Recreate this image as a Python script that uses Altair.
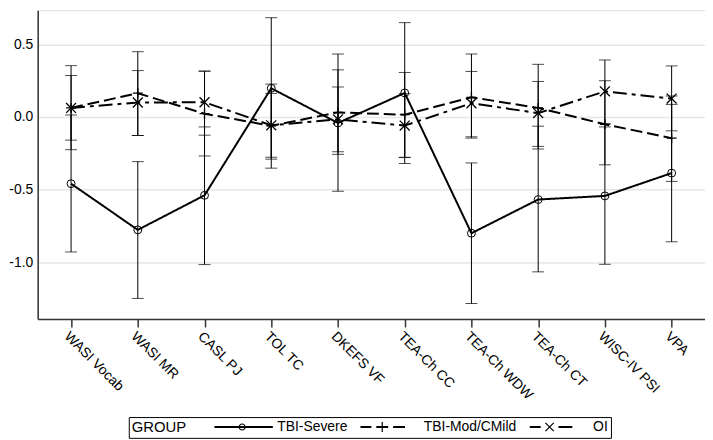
import altair as alt
import pandas as pd

FONT = "Liberation Sans"
AX = "#333333"

tests = ["WASI Vocab", "WASI MR", "CASL PJ", "TOL TC", "DKEFS VF",
         "TEA-Ch CC", "TEA-Ch WDW", "TEA-Ch CT", "WISC-IV PSI", "VPA"]
groups = ["TBI-Severe", "TBI-Mod/CMild", "OI"]

severe_mean = [-0.459, -0.777, -0.539, 0.198, -0.041, 0.166, -0.800, -0.568, -0.543, -0.386]
severe_lo = [-0.929, -1.249, -1.016, -0.290, -0.511, -0.320, -1.284, -1.066, -1.014, -0.859]
severe_hi = [0.014, -0.307, -0.068, 0.684, 0.434, 0.650, -0.316, -0.063, -0.068, 0.087]

mod_mean = [0.063, 0.164, 0.023, -0.060, 0.032, 0.016, 0.136, 0.063, -0.050, -0.145]
mod_lo = [-0.225, -0.127, -0.268, -0.352, -0.257, -0.277, -0.145, -0.220, -0.329, -0.443]
mod_hi = [0.354, 0.450, 0.316, 0.227, 0.325, 0.307, 0.434, 0.363, 0.250, 0.145]

oi_mean = [0.063, 0.100, 0.102, -0.057, -0.016, -0.059, 0.095, 0.027, 0.177, 0.127]
oi_lo = [-0.159, -0.127, -0.125, -0.277, -0.239, -0.279, -0.136, -0.202, -0.046, -0.095]
oi_hi = [0.286, 0.320, 0.316, 0.163, 0.207, 0.161, 0.314, 0.245, 0.393, 0.352]

rows = []
for g, m, lo, hi in [(groups[0], severe_mean, severe_lo, severe_hi),
                     (groups[1], mod_mean, mod_lo, mod_hi),
                     (groups[2], oi_mean, oi_lo, oi_hi)]:
    for t, a, b, c in zip(tests, m, lo, hi):
        rows.append({"test": t, "group": g, "mean": a, "lo": b, "hi": c})
df = pd.DataFrame(rows)

# ---- legend symbol paths (filled shapes drawn in px, scaled to the unit box) ----
ENTRY = 14.0          # legend entry height / nominal symbol size (px)
R = ENTRY / 2.0       # px per path unit
SLOT = 60.0           # visual width of each legend key
SYM_OFF = SLOT / 2 - ENTRY / 2
LAB_OFF = SLOT + 4 - ENTRY - SYM_OFF


def f(v):
    return f"{v / R:.4f}"


def rect(x0, x1, y0, y1):
    return f"M{f(x0)},{f(y0)}L{f(x1)},{f(y0)}L{f(x1)},{f(y1)}L{f(x0)},{f(y1)}Z"


def ring(cx, ro, ri):
    outer = (f"M{f(cx + ro)},0A{f(ro)},{f(ro)} 0 1 1 {f(cx - ro)},0"
             f"A{f(ro)},{f(ro)} 0 1 1 {f(cx + ro)},0Z")
    inner = (f"M{f(cx + ri)},0A{f(ri)},{f(ri)} 0 1 0 {f(cx - ri)},0"
             f"A{f(ri)},{f(ri)} 0 1 0 {f(cx + ri)},0Z")
    return outer + inner


def diag(x0, y0, x1, y1, w):
    dx, dy = x1 - x0, y1 - y0
    ln = (dx * dx + dy * dy) ** 0.5
    nx, ny = -dy / ln * w / 2, dx / ln * w / 2
    pts = [(x0 + nx, y0 + ny), (x1 + nx, y1 + ny), (x1 - nx, y1 - ny), (x0 - nx, y0 - ny)]
    area = sum(pts[i][0] * pts[(i + 1) % 4][1] - pts[(i + 1) % 4][0] * pts[i][1] for i in range(4))
    if area < 0:
        pts = pts[::-1]
    return "M" + "L".join(f"{f(px)},{f(py)}" for px, py in pts) + "Z"


leg_severe = rect(-29.5, 29.5, -1, 1) + ring(-1.5, 3.6, 2.5)
leg_mod = (rect(-30, -19, -1, 1) + rect(-14, -2, -1, 1) +
           rect(-8.6, -7.4, -5, 5) + rect(3, 15, -1, 1))
leg_oi = (rect(-30, -19, -1, 1) +
          diag(-14.2, -4.2, -5.8, 4.2, 1.2) + diag(-14.2, 4.2, -5.8, -4.2, 1.2) +
          rect(-1, 13, -1, 1))

xenc = alt.X("test:N", sort=tests, scale=alt.Scale(type="point", padding=0.5),
             axis=alt.Axis(title=None, labelAngle=45, labelFont=FONT, labelFontSize=14,
                           labelColor="black", tickSize=8, tickColor=AX, tickWidth=1.5,
                           domainColor=AX, domainWidth=1.5, grid=False, labelPadding=2))

yscale = alt.Scale(domain=[-1.391, 0.736], nice=False, zero=False)
yaxis = alt.Axis(title=None, values=[0.5, 0.0, -0.5, -1.0],
                 labelExpr="datum.value < 0 ? '-' + format(-datum.value, '.1f') : format(datum.value, '.1f')",
                 ticks=False, labelPadding=5, labelFont=FONT, labelFontSize=14,
                 labelColor="black", grid=True, gridColor="#e6e6e6", gridWidth=1.5,
                 domainColor=AX, domainWidth=1.5)


def Y(field):
    return alt.Y(field, scale=yscale, axis=yaxis)


base = alt.Chart(df)

rules = base.mark_rule(color="black", strokeWidth=1).encode(x=xenc, y=Y("lo:Q"), y2="hi:Q")
cap_lo = base.mark_tick(color="black", thickness=1, size=12, orient="horizontal").encode(x=xenc, y=Y("lo:Q"))
cap_hi = base.mark_tick(color="black", thickness=1, size=12, orient="horizontal").encode(x=xenc, y=Y("hi:Q"))

dashes = {groups[0]: [1, 0], groups[1]: [12, 5], groups[2]: [14, 5, 4, 5]}
line_layers = [
    base.transform_filter(alt.datum.group == g).mark_line(
        color="black", strokeWidth=2, strokeDash=dashes[g]
    ).encode(x=xenc, y=Y("mean:Q"))
    for g in groups
]

pts_sev = base.transform_filter(alt.datum.group == groups[0]).mark_point(
    shape="circle", filled=False, size=64, color="black", strokeWidth=1, opacity=1
).encode(x=xenc, y=Y("mean:Q"))
pts_mod = base.transform_filter(alt.datum.group == groups[1]).mark_point(
    shape="M-1,0L1,0M0,-1L0,1", filled=False, size=100, color="black", strokeWidth=1.3, opacity=1
).encode(x=xenc, y=Y("mean:Q"))
pts_oi = base.transform_filter(alt.datum.group == groups[2]).mark_point(
    shape="M-1,-1L1,1M-1,1L1,-1", filled=False, size=100, color="black", strokeWidth=1.3, opacity=1
).encode(x=xenc, y=Y("mean:Q"))

legend_layer = base.mark_point(
    filled=True, color="black", size=4, strokeWidth=0, opacity=0
).encode(
    x=xenc, y=Y("mean:Q"),
    shape=alt.Shape("group:N",
                    scale=alt.Scale(domain=groups, range=[leg_severe, leg_mod, leg_oi]),
                    legend=alt.Legend(title="GROUP", orient="none", legendX=92, legendY=411,
                                      direction="horizontal",
                                      titleOrient="left", titleFont=FONT, titleFontSize=15,
                                      titleFontWeight="normal", titleColor="black",
                                      titlePadding=27, titleBaseline="middle",
                                      labelFont=FONT, labelFontSize=14, labelColor="black",
                                      labelOffset=LAB_OFF,
                                      symbolSize=ENTRY * ENTRY, symbolStrokeWidth=0,
                                      symbolFillColor="black", symbolOpacity=1,
                                      symbolOffset=SYM_OFF,
                                      gridAlign="each", columnPadding=13, padding=3,
                                      strokeColor="black"))
)

chart = alt.layer(rules, cap_lo, cap_hi, *line_layers, pts_sev, pts_mod, pts_oi, legend_layer).properties(
    width=674, height=312, padding={"left": 0, "top": 0, "right": 0, "bottom": 0}
).configure_view(stroke=None).configure(font=FONT)

chart.save("out.html", embed_options={"renderer": "svg", "actions": False})
